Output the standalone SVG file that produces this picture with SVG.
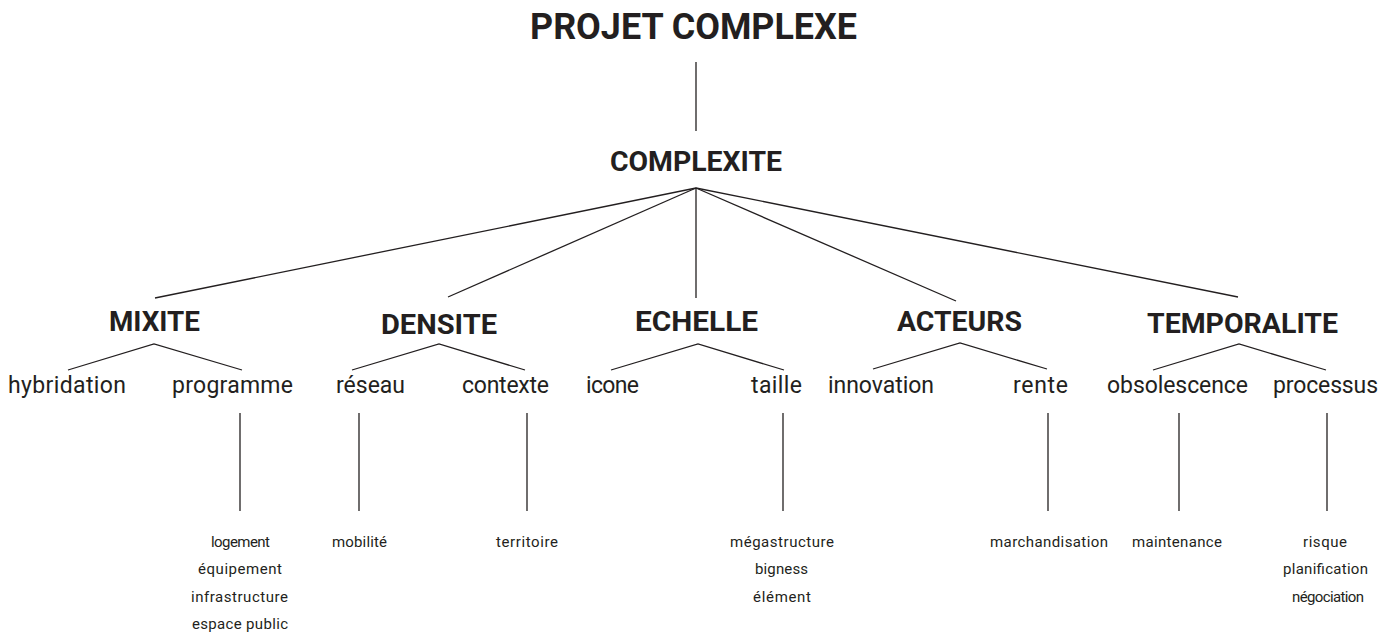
<svg xmlns="http://www.w3.org/2000/svg" width="1395" height="636" viewBox="0 0 1395 636">
<style>
text{font-family:Roboto,"Liberation Sans",sans-serif;fill:#231f20;}
.t0{font-size:36px;font-weight:bold;}
.t1{font-size:28px;font-weight:bold;}
.t3{font-size:23px;}
.t4{font-size:15px;}
.c line,.c polyline{stroke:#231f20;stroke-width:1.3;fill:none;}
</style>
<rect width="1395" height="636" fill="#ffffff"/>
<g class="c" id="connectors">
<line x1="696" y1="62" x2="696" y2="131"/>
<line x1="696" y1="188" x2="155" y2="298"/>
<line x1="696" y1="188" x2="448" y2="297"/>
<line x1="696" y1="188" x2="696" y2="298"/>
<line x1="696" y1="188" x2="956" y2="301"/>
<line x1="696" y1="188" x2="1238" y2="297"/>
<polyline points="68,370 154,344 242,370"/>
<polyline points="352,370 439,344 525,370"/>
<polyline points="611,370 698,344 784,370"/>
<polyline points="873,369 960,343 1047,369"/>
<polyline points="1153,370 1239,344 1326,370"/>
<line x1="240" y1="413" x2="240" y2="511"/>
<line x1="359" y1="413" x2="359" y2="511"/>
<line x1="527" y1="413" x2="527" y2="511"/>
<line x1="783" y1="413" x2="783" y2="511"/>
<line x1="1048" y1="413" x2="1048" y2="511"/>
<line x1="1179" y1="413" x2="1179" y2="511"/>
<line x1="1327" y1="413" x2="1327" y2="511"/>
</g>
<g id="projet"><text class="t0" x="530" y="39" textLength="327" lengthAdjust="spacingAndGlyphs">PROJET COMPLEXE</text></g>
<g id="complexite"><text class="t1" x="610" y="171" textLength="172" lengthAdjust="spacingAndGlyphs">COMPLEXITE</text></g>
<g id="mixite"><text class="t1" x="109" y="331" textLength="91" lengthAdjust="spacingAndGlyphs">MIXITE</text></g>
<g id="densite"><text class="t1" x="381" y="334" textLength="116" lengthAdjust="spacingAndGlyphs">DENSITE</text></g>
<g id="echelle"><text class="t1" x="635" y="331" textLength="123" lengthAdjust="spacingAndGlyphs">ECHELLE</text></g>
<g id="acteurs"><text class="t1" x="897" y="331" textLength="125" lengthAdjust="spacingAndGlyphs">ACTEURS</text></g>
<g id="temporalite"><text class="t1" x="1147" y="333" textLength="191" lengthAdjust="spacingAndGlyphs">TEMPORALITE</text></g>
<g id="hybridation"><text class="t3" x="8" y="393" textLength="118" lengthAdjust="spacing">hybridation</text></g>
<g id="programme"><text class="t3" x="172" y="393" textLength="121" lengthAdjust="spacing">programme</text></g>
<g id="reseau"><text class="t3" x="336" y="393" textLength="69" lengthAdjust="spacing">réseau</text></g>
<g id="contexte"><text class="t3" x="462" y="393" textLength="87" lengthAdjust="spacing">contexte</text></g>
<g id="icone"><text class="t3" x="586" y="393" textLength="53" lengthAdjust="spacing">icone</text></g>
<g id="taille"><text class="t3" x="751" y="393" textLength="51" lengthAdjust="spacing">taille</text></g>
<g id="innovation"><text class="t3" x="828" y="393" textLength="106" lengthAdjust="spacing">innovation</text></g>
<g id="rente"><text class="t3" x="1013" y="393" textLength="55" lengthAdjust="spacing">rente</text></g>
<g id="obsolescence"><text class="t3" x="1107" y="393" textLength="141" lengthAdjust="spacing">obsolescence</text></g>
<g id="processus"><text class="t3" x="1273" y="393" textLength="105" lengthAdjust="spacing">processus</text></g>
<g id="programme-items">
<text class="t4" x="211" y="547" textLength="59" lengthAdjust="spacing">logement</text>
<text class="t4" x="198" y="574" textLength="84" lengthAdjust="spacing">équipement</text>
<text class="t4" x="191" y="602" textLength="97" lengthAdjust="spacing">infrastructure</text>
<text class="t4" x="192" y="629" textLength="96" lengthAdjust="spacing">espace public</text>
</g>
<g id="reseau-items"><text class="t4" x="332" y="547" textLength="55" lengthAdjust="spacing">mobilité</text></g>
<g id="contexte-items"><text class="t4" x="496" y="547" textLength="62" lengthAdjust="spacing">territoire</text></g>
<g id="taille-items">
<text class="t4" x="730" y="547" textLength="104" lengthAdjust="spacing">mégastructure</text>
<text class="t4" x="755" y="574" textLength="53" lengthAdjust="spacing">bigness</text>
<text class="t4" x="753" y="602" textLength="58" lengthAdjust="spacing">élément</text>
</g>
<g id="rente-items"><text class="t4" x="990" y="547" textLength="118" lengthAdjust="spacing">marchandisation</text></g>
<g id="obsolescence-items"><text class="t4" x="1132" y="547" textLength="90" lengthAdjust="spacing">maintenance</text></g>
<g id="processus-items">
<text class="t4" x="1303" y="547" textLength="44" lengthAdjust="spacing">risque</text>
<text class="t4" x="1283" y="574" textLength="85" lengthAdjust="spacing">planification</text>
<text class="t4" x="1292" y="602" textLength="72" lengthAdjust="spacing">négociation</text>
</g>
</svg>
